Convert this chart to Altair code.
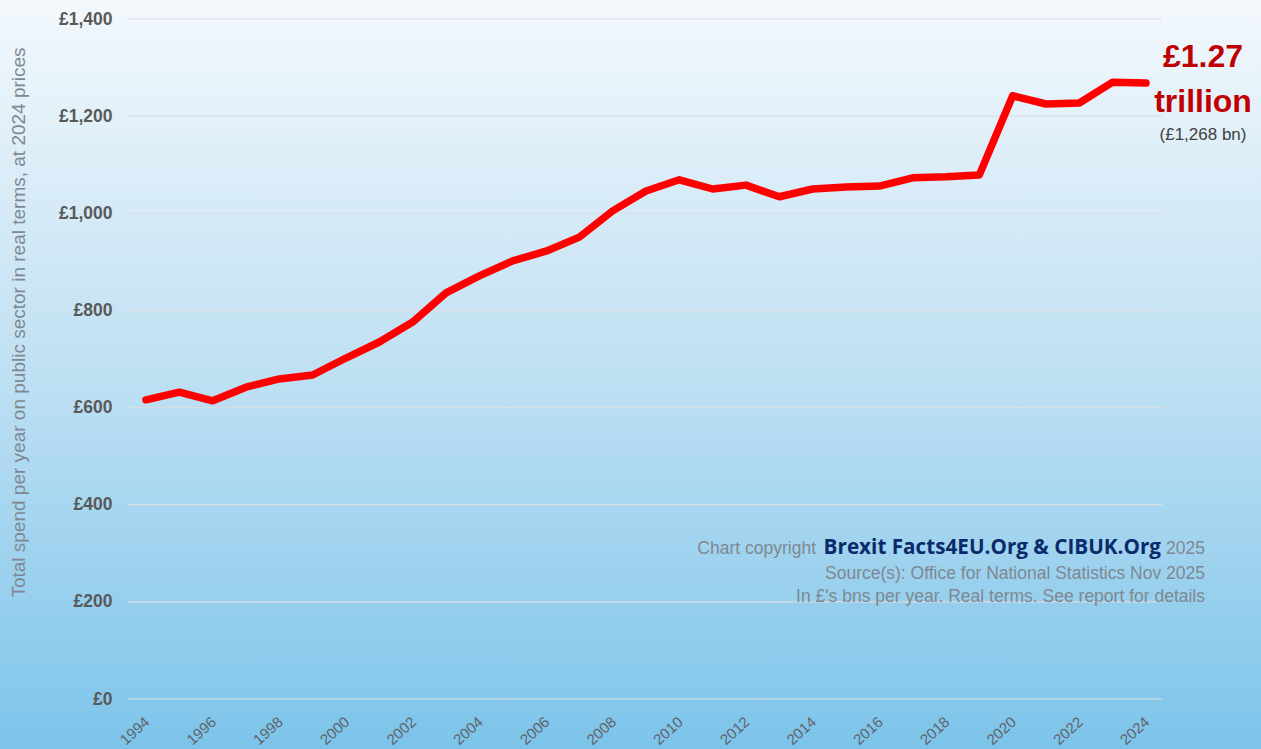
import altair as alt
import pandas as pd

years = list(range(1994, 2025))
spend = [616, 632, 614, 642, 659, 667, 702, 735, 776, 836, 871, 902, 922, 951,
         1005, 1046, 1069, 1050, 1058, 1034, 1050, 1054, 1056, 1073, 1075, 1079,
         1242, 1225, 1227, 1270, 1268]
x_ticks = list(range(1994, 2025, 2))
y_ticks = [0, 200, 400, 600, 800, 1000, 1200, 1400]

headline = ["£1.27", "trillion"]
sub_label = "(£1,268 bn)"
copy_parts = ["Chart copyright", "Brexit Facts4EU.Org & CIBUK.Org", "2025"]
footer_grey = ["Source(s): Office for National Statistics Nov 2025",
               "In £'s bns per year. Real terms. See report for details"]
y_title = "Total spend per year on public sector in real terms, at 2024 prices"

W, H = 1034, 680
GREY = "#7f8890"

df = pd.DataFrame({"year": years, "spend": spend})
xs = alt.Scale(domain=[1993.46, 2024.48], nice=False, zero=False)
ys = alt.Scale(domain=[0, 1400], nice=False)

y_axis = alt.Axis(values=y_ticks, labelExpr="'£' + format(datum.value, ',')",
                  labelFontSize=17.5, labelFontWeight="bold", labelColor="#595959",
                  labelFont="Liberation Sans", ticks=False, domain=False, grid=False,
                  labelPadding=16, zindex=1,
                  title=y_title,
                  titleFontSize=19, titleFontWeight="normal", titleColor=GREY,
                  titleFont="Liberation Sans", titleX=-110, titleY=303, titleAngle=270,
                  titleAlign="center", titleBaseline="middle")

bg = alt.Chart(pd.DataFrame({"a": [0]})).mark_rect(
    fill=alt.Gradient(gradient="linear",
                      stops=[alt.GradientStop(color="#f3f8fc", offset=0),
                             alt.GradientStop(color="#bfe0f3", offset=0.5),
                             alt.GradientStop(color="#7cc4ea", offset=1)],
                      x1=0, x2=0, y1=0, y2=1),
    clip=False
).encode(x=alt.value(-128), x2=alt.value(W + 99), y=alt.value(-19), y2=alt.value(H + 50))

grid = alt.Chart(pd.DataFrame({"v": y_ticks})).mark_rule(color="#d9dde2", strokeWidth=1.2).encode(
    y=alt.Y("v:Q", scale=ys, axis=y_axis, title=y_title),
    x=alt.value(0), x2=alt.value(W)
)

line = alt.Chart(df).mark_line(color="#ff0000", strokeWidth=7.5, strokeJoin="round", strokeCap="round").encode(
    x=alt.X("year:Q", scale=xs,
            axis=alt.Axis(values=x_ticks, format="d", labelAngle=-42, labelAlign="right",
                          labelBaseline="top", labelFontSize=15, labelColor="#5f6368",
                          labelFont="Liberation Sans", ticks=False, domain=False, grid=False,
                          labelPadding=15, labelOffset=-4, title=None, labelOverlap=False, zindex=1)),
    y=alt.Y("spend:Q", scale=ys, axis=y_axis, title=y_title)
)


def txt(t, x, y, size, color, align="right", weight="normal", font="Liberation Sans"):
    return alt.Chart(pd.DataFrame({"t": [t]})).mark_text(
        fontSize=size, color=color, font=font, align=align, baseline="middle", fontWeight=weight
    ).encode(text="t:N", x=alt.value(x), y=alt.value(y))


texts = [
    txt(headline[0], 1075, 38, 32, "#c00000", align="center", weight="bold"),
    txt(headline[1], 1075, 83, 32, "#c00000", align="center", weight="bold"),
    txt(sub_label, 1075, 116, 17, "#404040", align="center"),
    txt(copy_parts[0], 688, 530, 17.5, GREY),
    txt(copy_parts[1], 1033, 529, 20.7, "#0b2a6b", weight="bold", font="Open Sans"),
    txt(copy_parts[2], 1077, 530, 17.5, GREY),
    txt(footer_grey[0], 1077, 555, 17.5, GREY),
    txt(footer_grey[1], 1077, 578, 17.5, GREY),
]

chart = alt.layer(bg, grid, line, *texts).properties(
    width=W, height=H,
    autosize=alt.AutoSizeParams(type="none"),
    padding={"left": 128, "top": 19, "right": 99, "bottom": 50},
    background="#7cc4ea"
).configure_view(stroke=None)

chart.save("out.html", embed_options={"renderer": "svg", "actions": False})
